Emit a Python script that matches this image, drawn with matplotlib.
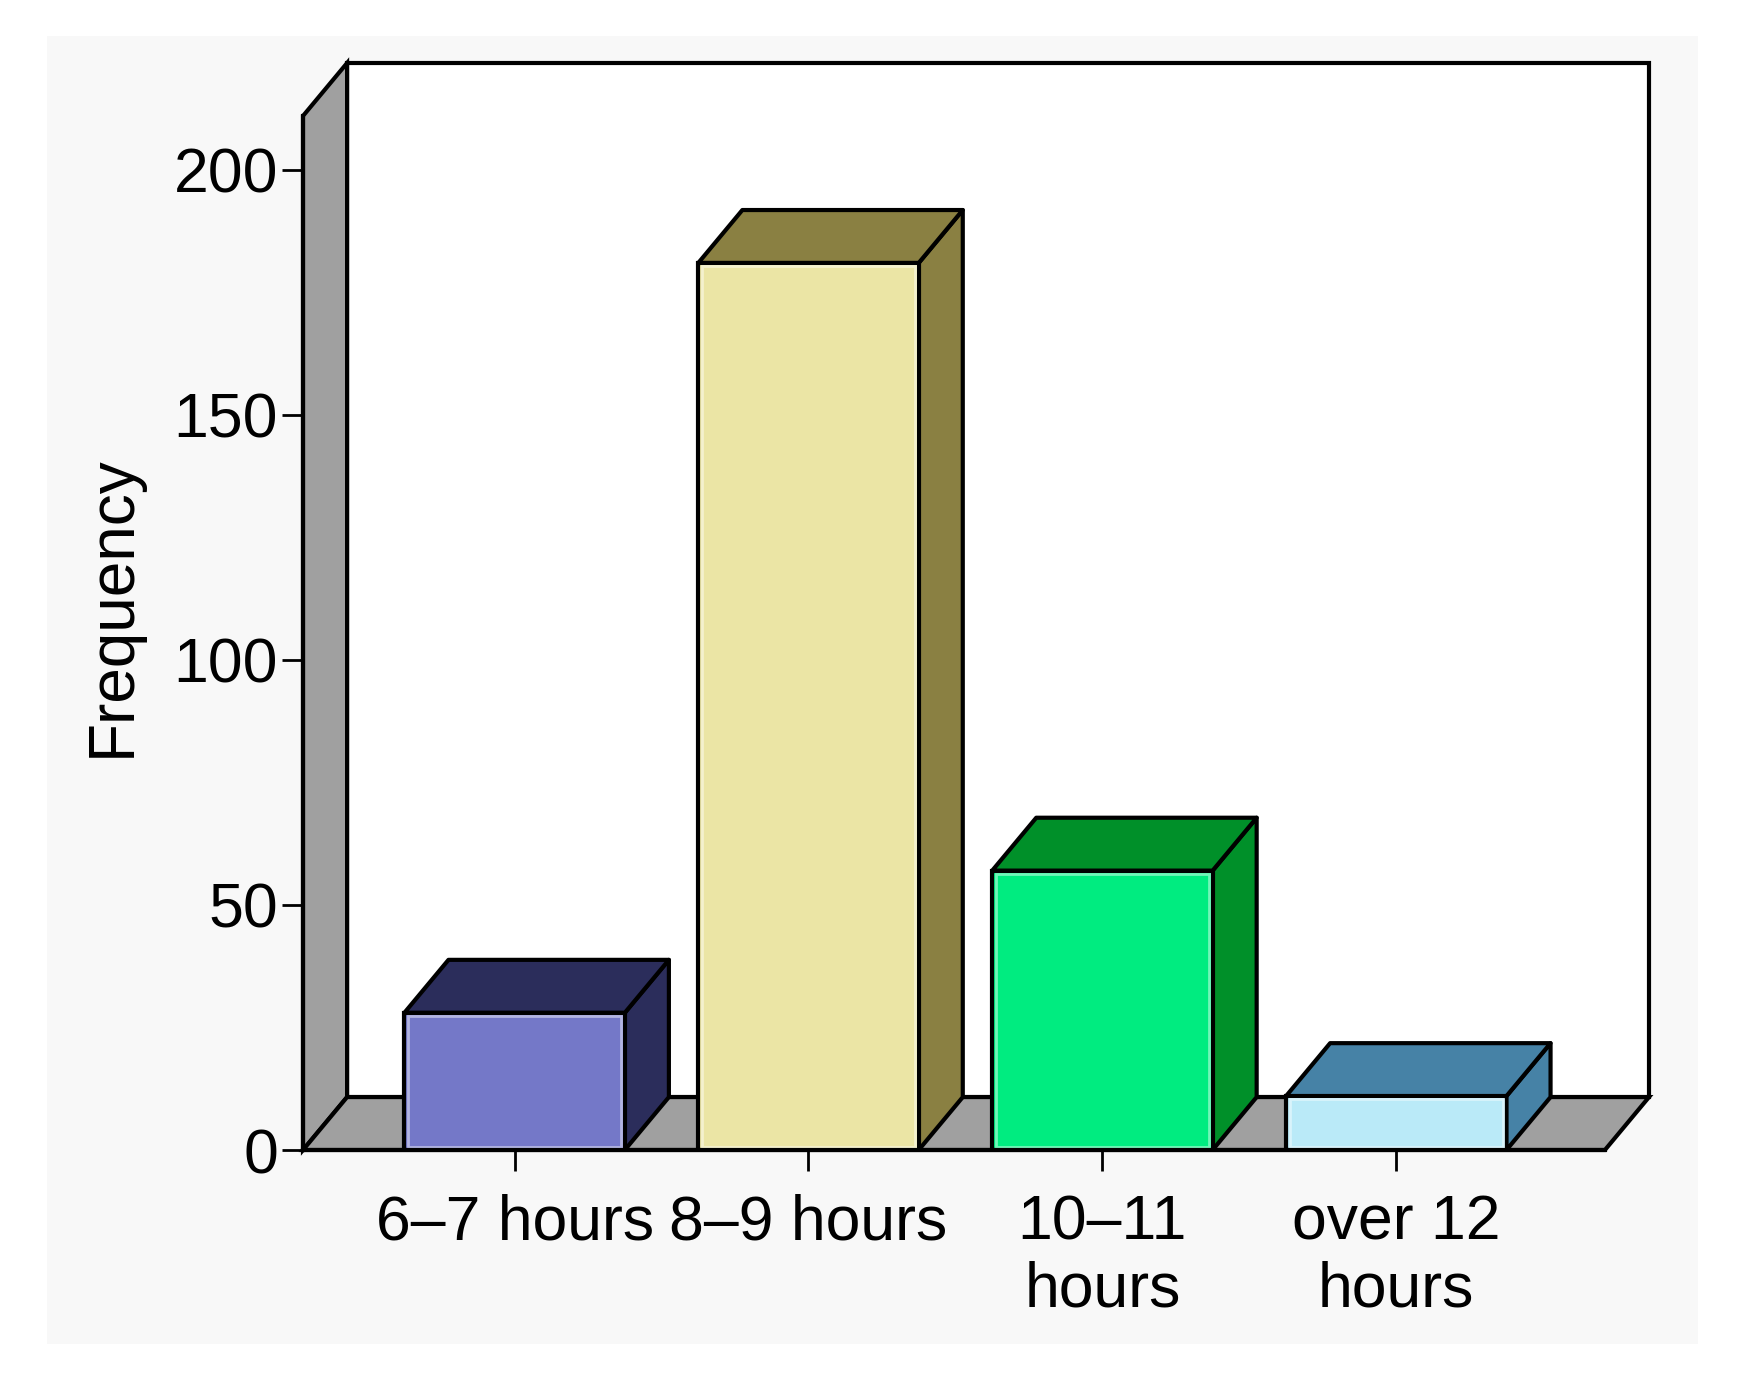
import matplotlib
matplotlib.use("Agg")
import matplotlib.pyplot as plt
from matplotlib.patches import Polygon, Rectangle
from matplotlib.colors import to_rgb

plt.rcParams['font.family'] = ['Liberation Sans', 'DejaVu Sans']

# data
categories = ["6\u20137 hours", "8\u20139 hours", "10\u201311\nhours", "over 12\nhours"]
frequency = [28, 181, 57, 11]
front_colors = ["#7478c8", "#ebe5a5", "#00ec80", "#baeaf8"]
dark_colors = ["#2b2d5b", "#8a8042", "#009029", "#4682a6"]
y_ticks = [0, 50, 100, 150, 200]

# 3d look
x_lo, x_hi = -0.72, 3.71
y_top = 211
dx, dy = 0.150, 10.8
bar_w = 0.75
lw = 3
wall_grey = "#a0a0a0"


def lighter(c, f=0.45):
    r, g, b = to_rgb(c)
    return (r + (1 - r) * f, g + (1 - g) * f, b + (1 - b) * f)


fig = plt.figure(figsize=(17.42, 13.92), dpi=100)
fig.patches.append(Rectangle((47 / 1742, 1 - 1344 / 1392), (1698 - 47) / 1742, (1344 - 36) / 1392,
                             transform=fig.transFigure, facecolor="#f8f8f8", edgecolor="none", zorder=-10))

ax = fig.add_axes([303 / 1742, 1 - 1150 / 1392, (1649 - 303) / 1742, (1150 - 63) / 1392])
ax.set_xlim(x_lo, x_hi + dx)
ax.set_ylim(0, y_top + dy)
ax.patch.set_visible(False)

# back wall
ax.add_patch(Polygon([(x_lo + dx, dy), (x_hi + dx, dy), (x_hi + dx, y_top + dy), (x_lo + dx, y_top + dy)],
                     closed=True, facecolor="white", edgecolor="black", lw=lw, zorder=1, clip_on=False))
# left wall
ax.add_patch(Polygon([(x_lo, 0), (x_lo + dx, dy), (x_lo + dx, y_top + dy), (x_lo, y_top)],
                     closed=True, facecolor=wall_grey, edgecolor="black", lw=lw, zorder=2, clip_on=False))
# floor
ax.add_patch(Polygon([(x_lo, 0), (x_hi, 0), (x_hi + dx, dy), (x_lo + dx, dy)],
                     closed=True, facecolor=wall_grey, edgecolor="black", lw=lw, zorder=2, clip_on=False))

for i, v in enumerate(frequency):
    l, r = i - bar_w / 2, i + bar_w / 2
    ax.add_patch(Polygon([(r, 0), (r + dx, dy), (r + dx, v + dy), (r, v)], closed=True,
                         facecolor=dark_colors[i], edgecolor="black", lw=lw, zorder=3, joinstyle="round"))
    ax.add_patch(Polygon([(l, v), (r, v), (r + dx, v + dy), (l + dx, v + dy)], closed=True,
                         facecolor=dark_colors[i], edgecolor="black", lw=lw, zorder=3, joinstyle="round"))
    ax.bar(i, v, width=bar_w, color=front_colors[i], edgecolor="black", lw=lw, zorder=4)
    # soft inner highlight of the front face
    ax.add_patch(Rectangle((l + 0.012, 0.6), bar_w - 0.024, v - 1.2, facecolor="none",
                           edgecolor=lighter(front_colors[i]), lw=2, zorder=4.5))

for s in ["top", "right"]:
    ax.spines[s].set_visible(False)
ax.spines["left"].set_position(("data", x_lo))
ax.spines["left"].set_bounds(0, y_top)
ax.spines["bottom"].set_bounds(x_lo, x_hi)
for s in ["left", "bottom"]:
    ax.spines[s].set_linewidth(lw)
    ax.spines[s].set_zorder(5)

ax.set_yticks(y_ticks)
ax.set_xticks(range(len(categories)))
ax.set_xticklabels(categories, linespacing=1.18)
ax.tick_params(axis="both", labelsize=45, width=2, length=15, direction="out")
ax.tick_params(axis="y", pad=3)
ax.tick_params(axis="x", pad=16)
ax.set_ylabel("Frequency", fontsize=46, labelpad=22)

fig.savefig("out.png", dpi=100)
